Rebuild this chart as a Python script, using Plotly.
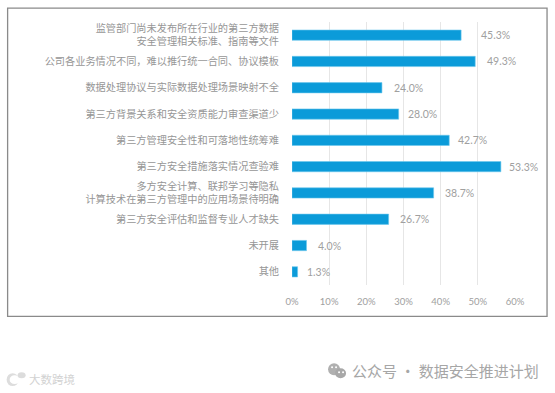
import plotly.graph_objects as go

W, H = 555, 393
categories = [
    "监管部门尚未发布所在行业的第三方数据<br>安全管理相关标准、指南等文件",
    "公司各业务情况不同\uff0c难以推行统一合同、协议模板",
    "数据处理协议与实际数据处理场景映射不全",
    "第三方背景关系和安全资质能力审查渠道少",
    "第三方管理安全性和可落地性统筹难",
    "第三方安全措施落实情况查验难",
    "多方安全计算、联邦学习等隐私<br>计算技术在第三方管理中的应用场景待明确",
    "第三方安全评估和监督专业人才缺失",
    "未开展",
    "其他",
]
bar_values = [45.5, 49.3, 24.2, 28.7, 42.3, 56.2, 38.1, 26.0, 3.9, 1.5]
value_labels = ["45.3%", "49.3%", "24.0%", "28.0%", "42.7%", "53.3%", "38.7%", "26.7%", "4.0%", "1.3%"]
label_gaps = [18, 10, 10, 7, 7, 6, 9, 9, 9, 7]
x_ticks = [0, 10, 20, 30, 40, 50, 60]
x_tick_labels = ["0%", "10%", "20%", "30%", "40%", "50%", "60%"]

L, R, T, B = 292, 514.7, 21.5, 285.5
CJK = "Noto Sans CJK SC"
GREY = "#969696"


def px(x):
    return (x - L) / (R - L)


def py(y):
    return (B - y) / (B - T)


fig = go.Figure(go.Bar(
    y=categories, x=bar_values, orientation="h", width=0.39,
    marker=dict(color="#0b9bd9", line=dict(color="#6cc8ec", width=0.6)),
    hoverinfo="skip",
))

annotations = [
    dict(x=v, y=c, text=t, xref="x", yref="y", xanchor="left", yanchor="middle",
         xshift=g, showarrow=False, font=dict(family="Lato", size=10.5, color="#a0a0a0"))
    for c, v, t, g in zip(categories, bar_values, value_labels, label_gaps)
]
annotations += [
    dict(x=px(350), y=py(371), xref="paper", yref="paper", xanchor="left", yanchor="middle",
         text="公众号 · 数据安全推进计划", showarrow=False,
         font=dict(family=CJK, size=15, color="#a6a6a6")),
    dict(x=px(27), y=py(380), xref="paper", yref="paper", xanchor="left", yanchor="middle",
         text="大数跨境", showarrow=False,
         font=dict(family=CJK, size=11.5, color="#d2d2d2")),
]


def ellipse(x0, y0, x1, y1, color):
    return dict(type="circle", xref="paper", yref="paper", x0=px(x0), x1=px(x1), y0=py(y0), y1=py(y1),
                fillcolor=color, line=dict(width=0), layer="above")


shapes = [
    dict(type="rect", xref="paper", yref="paper", x0=px(8), x1=px(546.7), y0=py(7.5), y1=py(317),
         line=dict(color="#8a8a8a", width=1.3), layer="below"),
    ellipse(328, 364, 340, 376, "#b0b0b0"),
    ellipse(335, 369, 346, 379, "#a8a8a8"),
    ellipse(331, 367, 333, 369, "#ffffff"),
    ellipse(335, 367, 337, 369, "#ffffff"),
    ellipse(338, 372, 340, 374, "#ffffff"),
    ellipse(342, 372, 344, 374, "#ffffff"),
    ellipse(7, 374, 19, 387, "#dddddd"),
    ellipse(10, 376, 20, 385, "#ffffff"),
    ellipse(18, 373, 26, 379, "#dcdcdc"),
]

fig.update_layout(
    width=W, height=H, autosize=False,
    margin=dict(l=L, r=W - R, t=T, b=H - B),
    paper_bgcolor="white", plot_bgcolor="white",
    showlegend=False, shapes=shapes, annotations=annotations,
    xaxis=dict(range=[0, 60], tickvals=x_ticks, ticktext=x_tick_labels, showgrid=True,
               gridcolor="#e6e6e6", gridwidth=1, zeroline=False, showline=False, ticks="",
               ticklabelstandoff=9,
               tickfont=dict(family="Lato", size=9.5, color="#a0a0a0")),
    yaxis=dict(autorange="reversed", showgrid=False, zeroline=False, showline=False, ticks="",
               ticklabelstandoff=12,
               tickfont=dict(family=CJK, size=10.2, color=GREY)),
)
fig.write_html("out.html", config={"displayModeBar": False},
               post_script="document.body.style.margin='0';document.documentElement.style.overflow='hidden';")
